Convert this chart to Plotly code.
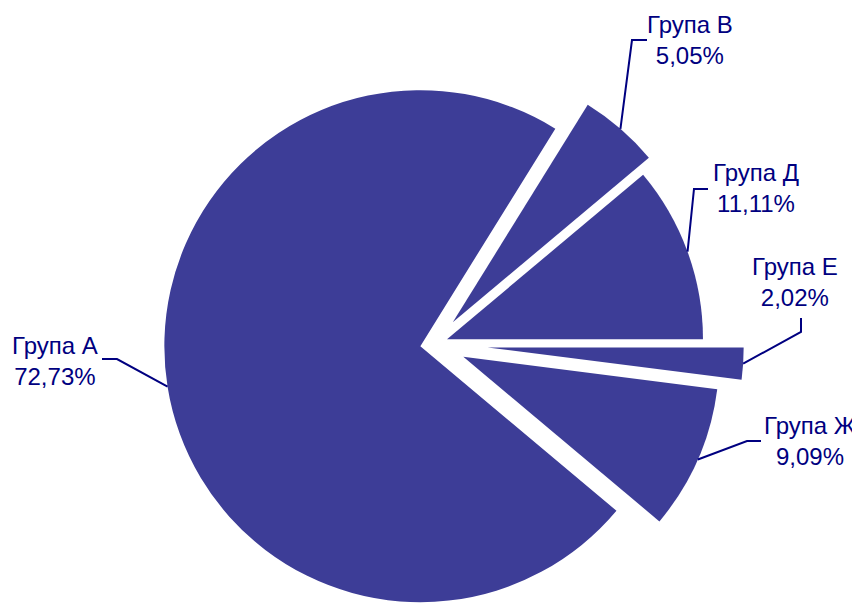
import math
import plotly.graph_objects as go

# ---- data ----
groups = ["Група А", "Група В", "Група Д", "Група Е", "Група Ж"]
counts = [72, 5, 11, 2, 9]

# ---- style / layout ----
explode = [0.054, 0.112, 0.054, 0.21, 0.125]   # pull of each slice, fraction of radius
W, H = 860, 605
OFF = 8                 # page margin offset of the rendered figure, px
R = 256                 # pie radius, px
CX, CY = 434, 344       # pie centre on screen, px
ROT = 130               # start of first slice, degrees clockwise from 12 o'clock
SLICE_COLOR = "#3d3d97"
TEXT_COLOR = "#000080"
FONT = "Liberation Sans, Arial, sans-serif"

# label text centres and leader-line start/elbow points (screen px)
label_pos = [(55, 361), (690, 40), (756, 188), (795, 282), (810, 441)]
leader_pts = [
    [(102, 359), (117, 359)],
    [(647, 40), (632, 40)],
    [(708, 189), (694, 189)],
    [(801, 318), (801, 332)],
    [(761, 441), (747, 441)],
]


def clamp(v):
    return min(1.0, max(0.0, round(v, 6)))


def px(x, y):
    return (x - OFF) / W, 1 - (y - OFF) / H


total = sum(counts)
fig = go.Figure()
shapes, annotations = [], []
start = ROT
for i, (g, c, p) in enumerate(zip(groups, counts, explode)):
    span = 360.0 * c / total
    mid = math.radians(start + span / 2)
    ax = CX + p * R * math.sin(mid)
    ay = CY - p * R * math.cos(mid)
    cols = ["rgba(0,0,0,0)"] * len(counts)
    cols[i] = SLICE_COLOR
    x0, y1 = px(ax - R, ay - R)
    x1, y0 = px(ax + R, ay + R)
    fig.add_trace(go.Pie(
        labels=groups, values=counts, sort=False,
        direction="clockwise", rotation=ROT,
        marker=dict(colors=cols, line=dict(width=0)),
        textinfo="none", hoverinfo="label+percent" if i == 0 else "skip",
        domain=dict(x=[clamp(x0), clamp(x1)], y=[clamp(y0), clamp(y1)]),
        showlegend=False,
    ))
    # leader line from label to middle of slice arc
    mx = ax + R * math.sin(mid)
    my = ay - R * math.cos(mid)
    pts = leader_pts[i] + [(mx, my)]
    path = "M " + " L ".join("%.5f %.5f" % px(x, y) for x, y in pts)
    shapes.append(dict(type="path", xref="paper", yref="paper", path=path,
                       line=dict(color=TEXT_COLOR, width=2)))
    pct = "%.2f%%" % (100.0 * c / total)
    lx, ly = px(*label_pos[i])
    annotations.append(dict(
        x=lx, y=ly, xref="paper", yref="paper", showarrow=False,
        text=g + "<br>" + pct.replace(".", ","),
        xanchor="center", yanchor="middle",
        font=dict(family=FONT, size=24, color=TEXT_COLOR),
    ))
    start += span

fig.update_layout(
    width=W, height=H,
    margin=dict(l=0, r=0, t=0, b=0),
    paper_bgcolor="white", plot_bgcolor="white",
    showlegend=False,
    shapes=shapes, annotations=annotations,
)

fig.write_html("out.html")
